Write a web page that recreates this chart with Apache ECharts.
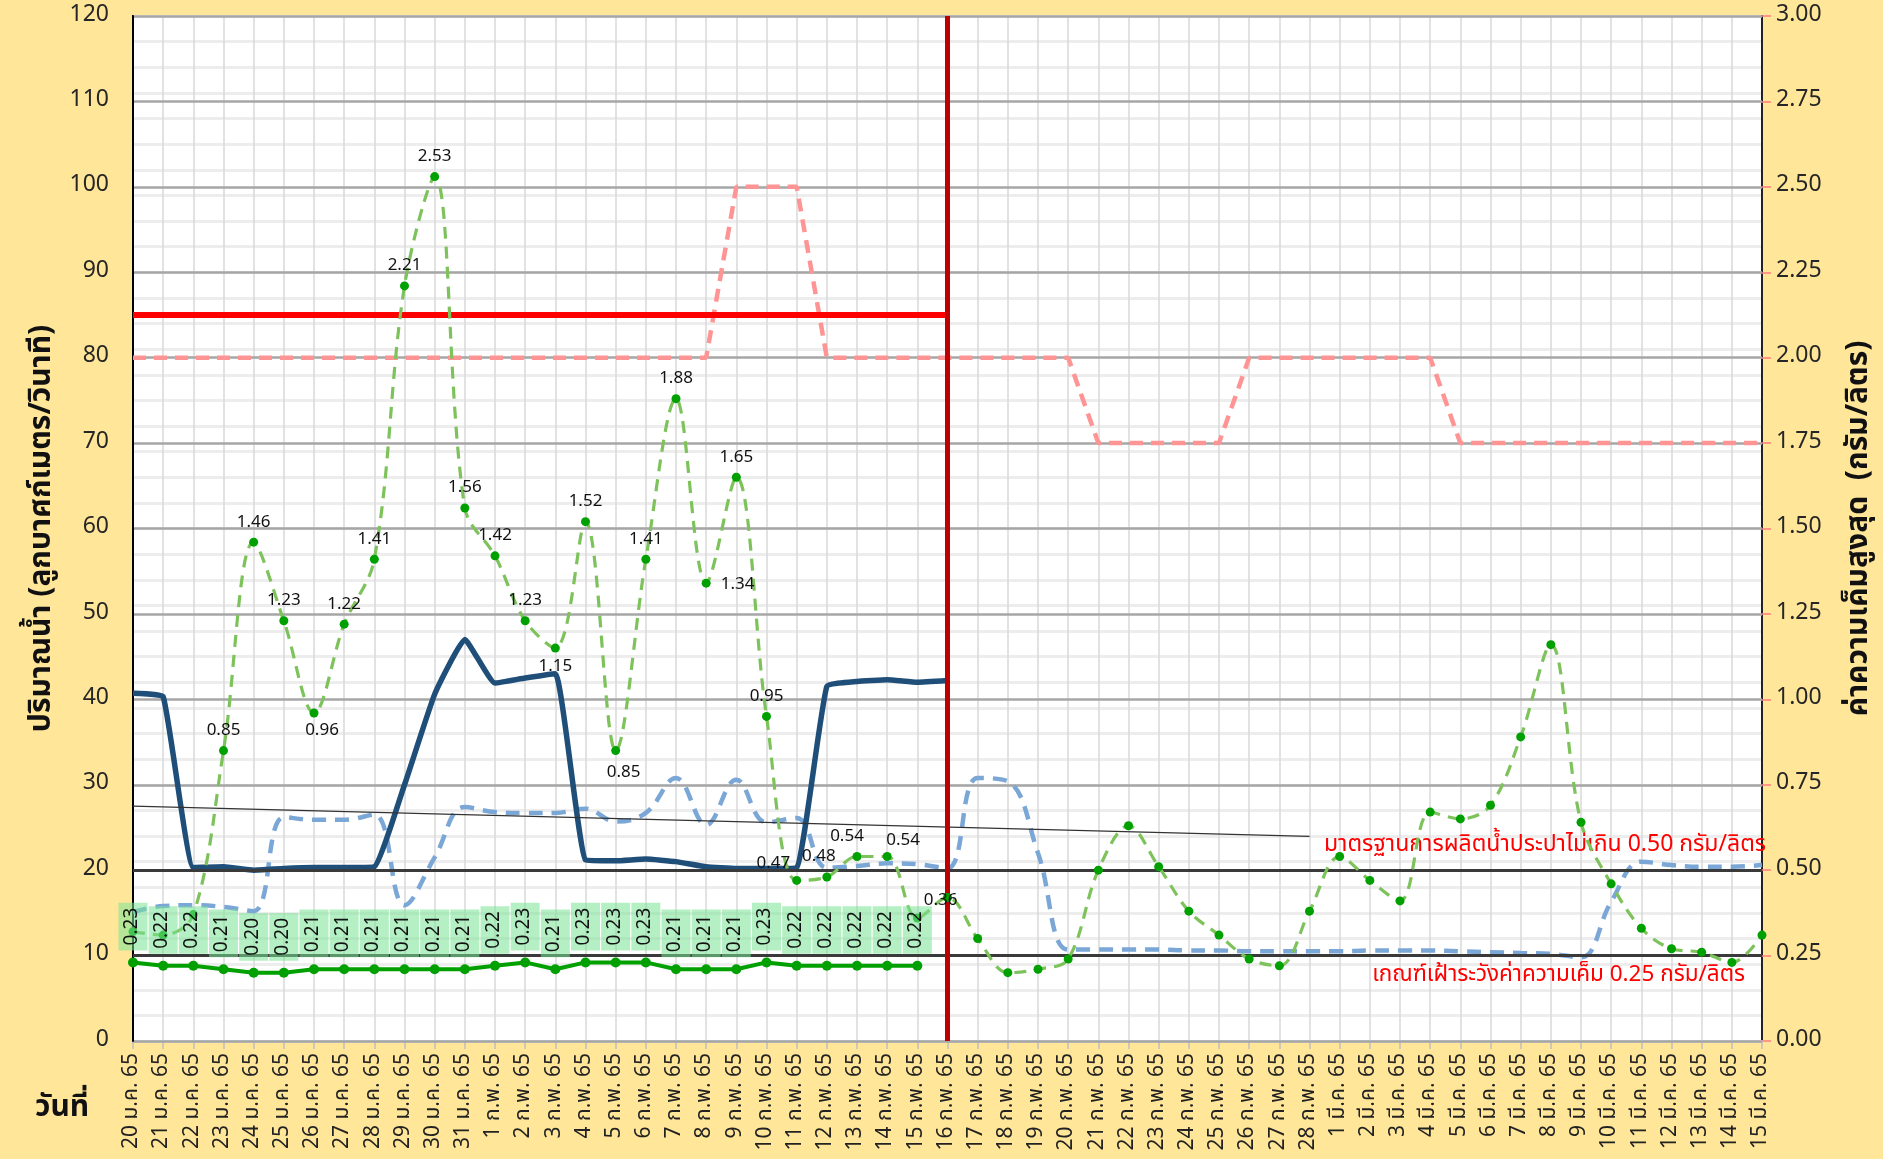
<!DOCTYPE html>
<html>
<head>
<meta charset="utf-8">
<script src="https://cdn.jsdelivr.net/npm/echarts@6/dist/echarts.min.js"></script>
<style>
  html, body { margin: 0; padding: 0; background: #FFE699; }
  #chart { width: 1883px; height: 1159px; }
</style>
</head>
<body>
<div id="chart"></div>
<script>
// Dates (Thai Buddhist era, short form)
const dates = [
  '20 ม.ค. 65','21 ม.ค. 65','22 ม.ค. 65','23 ม.ค. 65','24 ม.ค. 65','25 ม.ค. 65','26 ม.ค. 65','27 ม.ค. 65',
  '28 ม.ค. 65','29 ม.ค. 65','30 ม.ค. 65','31 ม.ค. 65',
  '1 ก.พ. 65','2 ก.พ. 65','3 ก.พ. 65','4 ก.พ. 65','5 ก.พ. 65','6 ก.พ. 65','7 ก.พ. 65','8 ก.พ. 65',
  '9 ก.พ. 65','10 ก.พ. 65','11 ก.พ. 65','12 ก.พ. 65','13 ก.พ. 65','14 ก.พ. 65','15 ก.พ. 65','16 ก.พ. 65',
  '17 ก.พ. 65','18 ก.พ. 65','19 ก.พ. 65','20 ก.พ. 65','21 ก.พ. 65','22 ก.พ. 65','23 ก.พ. 65','24 ก.พ. 65',
  '25 ก.พ. 65','26 ก.พ. 65','27 ก.พ. 65','28 ก.พ. 65',
  '1 มี.ค. 65','2 มี.ค. 65','3 มี.ค. 65','4 มี.ค. 65','5 มี.ค. 65','6 มี.ค. 65','7 มี.ค. 65','8 มี.ค. 65',
  '9 มี.ค. 65','10 มี.ค. 65','11 มี.ค. 65','12 มี.ค. 65','13 มี.ค. 65','14 มี.ค. 65','15 มี.ค. 65'
];

// Observed discharge (m3/s), up to 16 ก.พ.
const flowObserved = [
  40.7, 40.3, 20.3, 20.4, 20.0, 20.2, 20.3, 20.3, 20.4, 30.0, 40.6, 47.0,
  41.9, 42.5, 43.0, 21.2, 21.1, 21.3, 21.0, 20.4, 20.2, 20.2, 20.3, 41.5, 42.1, 42.3, 42.0, 42.2
];

// Second discharge series (m3/s), dashed
const flowDashed = [
  15.1, 15.8, 15.9, 15.7, 15.2, 26.2, 25.9, 25.9, 26.5, 15.9, 21.5, 27.4,
  26.8, 26.7, 26.7, 27.2, 25.7, 26.7, 30.8, 25.3, 30.6, 25.6, 26.1, 20.3, 20.5, 20.8, 20.7, 20.2,
  30.8, 30.4, 22.0, 10.7, 10.7, 10.7, 10.7, 10.6, 10.6, 10.5, 10.5, 10.5,
  10.5, 10.6, 10.6, 10.6, 10.5, 10.4, 10.3, 10.2, 9.8, 16.3, 21.0, 20.6, 20.4, 20.4, 20.6
];

// Salinity criterion (g/L), dashed pink
const salinityCriterion = [
  2.00, 2.00, 2.00, 2.00, 2.00, 2.00, 2.00, 2.00, 2.00, 2.00, 2.00, 2.00,
  2.00, 2.00, 2.00, 2.00, 2.00, 2.00, 2.00, 2.00, 2.50, 2.50, 2.50, 2.00, 2.00, 2.00, 2.00, 2.00,
  2.00, 2.00, 2.00, 2.00, 1.75, 1.75, 1.75, 1.75, 1.75, 2.00, 2.00, 2.00,
  2.00, 2.00, 2.00, 2.00, 1.75, 1.75, 1.75, 1.75, 1.75, 1.75, 1.75, 1.75, 1.75, 1.75, 1.75
];

// Maximum salinity (g/L)
const salinityMax = [
  0.32, 0.31, 0.37, 0.85, 1.46, 1.23, 0.96, 1.22, 1.41, 2.21, 2.53, 1.56,
  1.42, 1.23, 1.15, 1.52, 0.85, 1.41, 1.88, 1.34, 1.65, 0.95, 0.47, 0.48, 0.54, 0.54, 0.36, 0.42,
  0.30, 0.20, 0.21, 0.24, 0.50, 0.63, 0.51, 0.38, 0.31, 0.24, 0.22, 0.38,
  0.54, 0.47, 0.41, 0.67, 0.65, 0.69, 0.89, 1.16, 0.64, 0.46, 0.33, 0.27, 0.26, 0.23, 0.31
];
// Points of the max-salinity series that carry a value label (index range)
const labelFrom = 3, labelTo = 26;
// Label placement for crowded points: [position, dx, dy]
const labelPlacement = {
  6: ['bottom', 8, 0], 14: ['bottom', 0, 0], 16: ['bottom', 8, 4], 19: ['right', 4, 2],
  22: ['left', 4, -16], 23: ['top', -8, 0], 24: ['top', -10, 0], 25: ['top', 16, 4], 26: ['right', -4, -16]
};

// Minimum salinity (g/L), up to 15 ก.พ.
const salinityMin = [
  0.23, 0.22, 0.22, 0.21, 0.20, 0.20, 0.21, 0.21, 0.21, 0.21, 0.21, 0.21,
  0.22, 0.23, 0.21, 0.23, 0.23, 0.23, 0.21, 0.21, 0.21, 0.23, 0.22, 0.22, 0.22, 0.22, 0.22
];

// Left axis ticks (m3/s) and right axis ticks (g/L)
const flowTicks = { min: 0, max: 120, interval: 10 };
const saltTicks = { min: 0, max: 3, interval: 0.25 };

// Reference levels
const productionLimit = 0.50;   // g/L
const watchLevel = 0.25;        // g/L
const releaseTarget = 85;       // m3/s, held until the marked date
const cutoffIndex = 27;         // 16 ก.พ. 65
const trendStart = 27.5, trendEnd = 23.95, trendEndIndex = 39;

const FONT = 'Tahoma, "Noto Sans Thai", "Noto Sans", "DejaVu Sans", sans-serif';

const maxData = salinityMax.map((v, i) => {
  const item = { value: v };
  if (i >= labelFrom && i <= labelTo) {
    const p = labelPlacement[i] || ['top', 0, 0];
    item.label = { show: true, position: p[0], offset: [p[1], p[2]] };
  }
  return item;
});

const chart = echarts.init(document.getElementById('chart'), null, { renderer: 'canvas' });

chart.setOption({
  backgroundColor: '#FFE699',
  animation: false,
  textStyle: { fontFamily: FONT },
  title: {
    text: 'วันที่',
    left: 30, top: 1090,
    textStyle: { fontFamily: FONT, fontSize: 30, fontWeight: 'bold', color: '#111' }
  },
  grid: {
    left: 133, right: 121, top: 16, bottom: 118,
    outerBoundsMode: 'none', containLabel: false,
    show: true, backgroundColor: '#FFFFFF', borderColor: '#000', borderWidth: 2
  },
  xAxis: {
    type: 'category',
    data: dates,
    boundaryGap: false,
    axisLine: { show: true, lineStyle: { color: '#D9D9D9', width: 3 } },
    axisTick: { show: true, alignWithLabel: true, length: 8, lineStyle: { color: '#BFBFBF', width: 1.5 } },
    axisLabel: { interval: 0, rotate: 90, margin: 12, fontSize: 21, color: '#222', fontFamily: FONT },
    splitLine: { show: true, interval: 0, lineStyle: { color: '#D9D9D9', width: 1.5 } }
  },
  yAxis: [
    {
      type: 'value', position: 'left', z: 1,
      min: flowTicks.min, max: flowTicks.max, interval: flowTicks.interval,
      name: 'ปริมาณน้ำ (ลูกบาศก์เมตร/วินาที)',
      nameLocation: 'middle', nameRotate: 90, nameGap: 63,
      nameTextStyle: { fontSize: 30, fontWeight: 'bold', color: '#111', fontFamily: FONT },
      axisLine: { show: true, lineStyle: { color: '#000', width: 2 } },
      axisTick: { show: false },
      axisLabel: { fontSize: 23, color: '#262626', margin: 24, fontFamily: FONT },
      splitLine: { show: true, lineStyle: { color: '#A6A6A6', width: 2.5 } }
    },
    {
      type: 'value', position: 'right',
      min: saltTicks.min, max: saltTicks.max, interval: saltTicks.interval,
      name: 'ค่าความเค็มสูงสุด  (กรัม/ลิตร)',
      nameLocation: 'middle', nameRotate: 90, nameGap: 84,
      nameTextStyle: { fontSize: 30, fontWeight: 'bold', color: '#111', fontFamily: FONT },
      axisLine: { show: true, lineStyle: { color: '#222', width: 2 } },
      axisTick: { show: true, length: 9, lineStyle: { color: '#FF7C80', width: 1.5 } },
      axisLabel: { fontSize: 23, color: '#262626', margin: 14, fontFamily: FONT,
                   formatter: v => v.toFixed(2) },
      splitLine: { show: false }
    },
    {
      // fine background grid every 3 units of discharge
      type: 'value', position: 'left', show: true, z: 0,
      min: 0, max: 120, interval: 3,
      axisLine: { show: false }, axisTick: { show: false }, axisLabel: { show: false },
      splitLine: { show: true, lineStyle: { color: '#EDEDED', width: 3 } }
    }
  ],
  series: [
    {
      name: 'เกณฑ์',
      type: 'line',
      yAxisIndex: 1,
      data: [],
      silent: true,
      z: 1,
      markLine: {
        silent: true, symbol: 'none', animation: false,
        data: [
          { yAxis: productionLimit,
            lineStyle: { color: '#3A3A3A', width: 3, type: 'solid' },
            label: { show: true, position: 'insideEndTop', distance: [-4, 12],
                     formatter: 'มาตรฐานการผลิตน้ำประปาไม่เกิน 0.50 กรัม/ลิตร',
                     color: '#FF0000', fontSize: 23, fontFamily: FONT } },
          { yAxis: watchLevel,
            lineStyle: { color: '#3A3A3A', width: 3, type: 'solid' },
            label: { show: true, position: 'insideEndBottom', distance: [17, 9],
                     formatter: 'เกณฑ์เฝ้าระวังค่าความเค็ม 0.25 กรัม/ลิตร',
                     color: '#FF0000', fontSize: 22.5, fontFamily: FONT } }
        ]
      }
    },
    {
      name: 'เกณฑ์ความเค็ม',
      type: 'line',
      yAxisIndex: 1,
      data: salinityCriterion,
      showSymbol: false,
      lineStyle: { color: '#FF9494', width: 4.5, type: [13, 8] },
      z: 2
    },
    {
      name: 'ปริมาณน้ำ (เส้นประ)',
      type: 'line',
      yAxisIndex: 0,
      data: flowDashed,
      showSymbol: false,
      smooth: 0.4,
      lineStyle: { color: '#7BA7D7', width: 4.5, type: [14, 9] },
      z: 3
    },
    {
      name: 'ปริมาณน้ำ',
      type: 'line',
      yAxisIndex: 0,
      data: flowObserved,
      showSymbol: false,
      smooth: 0.12,
      lineStyle: { color: '#1F4E79', width: 5.5 },
      z: 4,
      markLine: {
        silent: true, symbol: 'none', animation: false, label: { show: false },
        data: [
          [ { coord: [0, trendStart], lineStyle: { color: '#333', width: 1.2, type: 'solid' } },
            { coord: [trendEndIndex, trendEnd] } ]
        ]
      }
    },
    {
      name: 'ค่าความเค็มสูงสุด',
      type: 'line',
      yAxisIndex: 1,
      data: maxData,
      smooth: 0.35,
      symbol: 'circle',
      symbolSize: 9,
      itemStyle: { color: '#00A000' },
      lineStyle: { color: '#7DC25B', width: 3.2, type: [12, 8] },
      label: { show: false, fontSize: 17, color: '#111', fontFamily: FONT, distance: 6 },
      z: 5
    },
    {
      name: 'ค่าความเค็มต่ำสุด',
      type: 'line',
      yAxisIndex: 1,
      data: salinityMin,
      symbol: 'circle',
      symbolSize: 10,
      itemStyle: { color: '#00A000' },
      lineStyle: { color: '#00A000', width: 4 },
      label: {
        show: true, position: 'top', distance: 7, rotate: 90,
        align: 'left', verticalAlign: 'middle',
        formatter: p => p.value.toFixed(2),
        fontSize: 19, color: '#111', fontFamily: FONT,
        backgroundColor: 'rgba(120,228,150,0.55)', padding: [5, 5, 5, 5]
      },
      z: 6
    },
    {
      name: 'เส้นแบ่ง',
      type: 'line',
      yAxisIndex: 0,
      data: [],
      silent: true,
      z: 10,
      markLine: {
        silent: true, symbol: 'none', animation: false, label: { show: false },
        data: [
          [ { coord: [0, releaseTarget], lineStyle: { color: '#FF0000', width: 6, type: 'solid' } },
            { coord: [cutoffIndex, releaseTarget] } ],
          { xAxis: cutoffIndex, lineStyle: { color: '#C00000', width: 5, type: 'solid' } }
        ]
      }
    }
  ]
});
</script>
</body>
</html>
